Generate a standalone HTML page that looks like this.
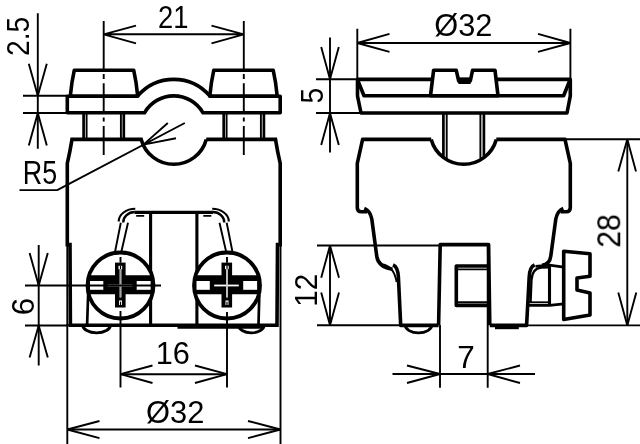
<!DOCTYPE html>
<html>
<head>
<meta charset="utf-8">
<title>Drawing</title>
<style>
html,body{margin:0;padding:0;background:#fff;}
body{width:640px;height:444px;overflow:hidden;}
svg{display:block;}
text{font-family:"Liberation Sans",sans-serif;fill:#000;}
.k{stroke:#000;stroke-width:3.6;fill:none;stroke-linejoin:round;stroke-linecap:butt;}
.kw{stroke:#000;stroke-width:3.6;fill:#fff;stroke-linejoin:round;}
.m{stroke:#000;stroke-width:2.7;fill:none;}
.n{stroke:#000;stroke-width:3.1;fill:none;}
.t{stroke:#000;stroke-width:1.9;fill:none;stroke-linejoin:bevel;}
.b{fill:#000;stroke:none;}
.w{fill:#fff;stroke:none;}
</style>
</head>
<body>
<svg width="640" height="444" viewBox="0 0 640 444">
<rect x="0" y="0" width="640" height="444" fill="#fff"/>

<!-- ================= FRONT VIEW ================= -->
<g id="front">
  <!-- caps -->
  <path class="kw" d="M70.3,96.2 Q71.6,82 74.3,70.2 L133.7,70.2 Q136.4,82 137.7,96.2 Z"/>
  <path class="kw" d="M277.2,96.2 Q275.9,82 273.2,70.2 L213.8,70.2 Q211.100,82 209.8,96.2 Z"/>
  <!-- plate -->
  <path class="k" d="M137.5,96.2 L67.3,96.2 L67.3,112.8 L144.5,112.8 A33.75,33.75 0 0 1 203,112.8 L280.2,112.8 L280.2,96.2 L210,96.2 A47.4,47.4 0 0 0 137.5,96.2"/>
  <!-- bolts -->
  <path class="m" d="M83.6,113V139.3 M123.8,113V139.3 M223.7,113V139.3 M263.900,113V139.3"/>
  <path class="t" d="M86.6,113V139.3 M120.900,113V139.3 M226.600,113V139.3 M260.900,113V139.3"/>
  <!-- body -->
  <path class="k" style="stroke-linejoin:miter" d="M206.3,139.4 L275.5,139.4 Q277.5,152 280.2,163.3 L280.2,244.6 L277.5,244.6 L277,325.2 L70.400,325.2 L70,244.6 L67.3,244.6 L67.3,163.3 Q70,152 72,139.4 L141.2,139.4 A33.75,33.75 0 0 0 206.3,139.4"/>
  <path class="t" d="M66,325.2H71"/>
  <!-- bottom thick band -->
  <path class="k" d="M177.5,327H264"/>
  <!-- feet -->
  <path d="M82.7,325 A13.9,7.9 0 0 0 110.5,325" fill="none" stroke="#000" stroke-width="2.9"/>
  <path d="M238.4,325 A12.9,7.9 0 0 0 264.2,325" fill="none" stroke="#000" stroke-width="2.9"/>
  <!-- inner bracket -->
  <path class="n" d="M134.5,212.4H213"/>
  <path class="n" d="M150.6,212.4V325 M196.9,212.4V325"/>
  <path d="M118.7,221.4 A16.6,12.6 0 0 1 135.3,208.8" fill="none" stroke="#000" stroke-width="2.1"/><path d="M123.2,222.4 A11.5,10.4 0 0 1 134.7,212" fill="none" stroke="#000" stroke-width="2.4"/>
  <path d="M228.8,221.4 A16.6,12.6 0 0 0 212.2,208.8" fill="none" stroke="#000" stroke-width="2.1"/><path d="M224.3,222.4 A11.5,10.4 0 0 0 212.8,212" fill="none" stroke="#000" stroke-width="2.4"/>
  <path class="t" d="M136.2,215.9H144.2 M203.3,215.9H211.3"/>
  <path class="t" d="M120.8,222.7 L115,252 M128,222.7 L121.3,252 M226.7,222.7 L232.5,252 M219.5,222.7 L226.2,252"/>
  <!-- short lines screw-to-bottom -->
  <path class="m" d="M88.2,293 L87.1,325 M259.3,295 L258.500,325"/>
</g>

<!-- screws -->
<g id="screwL" transform="translate(120.5,285.5)">
  <circle cx="0" cy="0" r="33" fill="#fff" stroke="#000" stroke-width="3.8"/>
  <path class="b" d="M-31.3,-10.2 H31.3 L32.600,-5 L33,0 L32.600,5 L31.900,8.7 H-31.900 L-32.600,5 L-33,0 L-32.600,-5 Z"/>
  <rect class="w" x="-30.500" y="-4.500" width="13.300" height="8.800"/>
  <rect class="w" x="16.200" y="-4.500" width="13.900" height="8.800"/>
  <rect class="b" x="-5.500" y="-22.900" width="10.600" height="44.900"/>
  <rect class="w" x="-2" y="-19.700" width="3.700" height="3.400"/>
  <rect class="w" x="-0.900" y="-16.500" width="1.800" height="28.500"/>
  <rect class="w" x="-12.800" y="-0.900" width="24.600" height="1.800"/>
  <rect class="w" x="-1.500" y="15" width="3" height="4.500"/>
  <path d="M0,-19.700V-16.300" stroke="#000" stroke-width="1.2" fill="none"/><path d="M0,-16.300V12" stroke="#666" stroke-width="0.6" fill="none"/>
  <path d="M0,16.200V19.500" stroke="#000" stroke-width="1.200" fill="none"/>
</g>
<g id="screwR" transform="translate(227,285.5)">
  <circle cx="0" cy="0" r="33" fill="#fff" stroke="#000" stroke-width="3.8"/>
  <path class="b" d="M-31.3,-10.2 H31.3 L32.600,-5 L33,0 L32.600,5 L31.900,8.7 H-31.900 L-32.600,5 L-33,0 L-32.600,-5 Z"/>
  <rect class="w" x="-30.500" y="-4.500" width="13.300" height="8.800"/>
  <rect class="w" x="16.200" y="-4.500" width="13.900" height="8.800"/>
  <rect class="b" x="-5.500" y="-22.900" width="10.600" height="44.900"/>
  <rect class="w" x="-2" y="-19.700" width="3.700" height="3.400"/>
  <rect class="w" x="-0.900" y="-16.500" width="1.800" height="28.500"/>
  <rect class="w" x="-12.800" y="-0.900" width="24.600" height="1.800"/>
  <rect class="w" x="-1.500" y="15" width="3" height="4.500"/>
  <path d="M0,-19.700V-16.300" stroke="#000" stroke-width="1.2" fill="none"/><path d="M0,-16.300V12" stroke="#666" stroke-width="0.6" fill="none"/>
  <path d="M0,16.200V19.500" stroke="#000" stroke-width="1.200" fill="none"/>
</g>


<!-- ================= SIDE VIEW ================= -->
<g id="side">
  <!-- plate -->
  <path class="k" d="M357.5,79.4 L570.3,79.4 L570.3,96 L567,113 L361,113 L357.5,96 Z"/>
  <path class="k" d="M357.8,80.5 L364,95.8 L563.6,95.8 L569.800,80.5"/>
  <!-- cap -->
  <path class="kw" d="M430.5,95.8 L433.6,70.2 L456.2,70.2 L458.7,81 L470.3,81 L472.600,70.2 L495,70.2 L498,95.8 Z"/>
  <path class="b" d="M457.3,77.7 H471.5 L470.5,84 H458.500 Z"/>
  <!-- bolt -->
  <path class="m" d="M443.4,113V156.5 M483.9,113V156.500"/>
  <path class="t" d="M446.7,113V158.5 M480.4,113V158.500"/>
  <!-- body left -->
  <path class="k" d="M496.3,139.4 L565,139.4 L570.3,163.3 L570.3,207.5 Q570.300,211.8 566.2,211.8 L560.6,211.8"/>
  <path class="k" d="M431.200,139.4 L362.6,139.4 L357.3,163.3 L357.3,207.500 Q357.3,211.8 361.4,211.8 L367,211.8"/>
  <path class="k" d="M431.2,139.4 A33.75,33.75 0 0 0 496.3,139.4"/>
  <!-- left profile -->
  <path class="k" d="M364.3,208.4 Q370,210.5 371.8,219 L376.8,256.5 Q378.3,267 392.500,269.3"/>
  <path class="k" d="M393,264.8 Q398,267 398.4,277 L400.7,325.4 L438.6,325.4"/>
  <path class="t" d="M382,264.2 Q394,266 396.6,282"/>
  <!-- right profile -->
  <path class="k" d="M563.3,208.400 Q557.6,210.5 555.8,219 L550.8,256 Q549.8,264.3 542,265.3"/>
  <path class="k" d="M534.6,264.8 Q529.6,267 529.2,277 L526.6,325.4 L489.8,325.4"/>
  <path d="M549,267.3 L541,267.6 Q532.300,268.500 531.500,280 L530.600,302" fill="none" stroke="#000" stroke-width="2.3"/>
  <!-- post -->
  <path class="k" d="M438.6,325.2 L440.2,244.6 L488.6,244.6 L489.8,325.2"/>
  <path class="k" d="M488.8,266 L456.3,266 L456.3,305.400 L489.2,305.400"/>
  <path class="t" d="M457,269.4H488.800 M457,302.200H489.200"/>
  <!-- foot + band -->
  <path d="M405.2,325 A13.3,7.900 0 0 0 431.8,325" fill="none" stroke="#000" stroke-width="2.8"/>
  <path class="k" d="M495,327.4H518.8"/>
  <!-- side screw -->
  <path class="m" d="M535.500,266.300 L549.500,265.200 L563.700,267.200 M528,305.400 L549.500,305.400 L563.7,303.800"/><path class="n" d="M549.500,265.200V305.400"/>
  <path class="t" d="M529,302.300 L549.500,302.300"/>
  <path class="kw" d="M563.7,251.2 L590,253.8 L590,276.2 L577,278 L577,290 L590,293 L590,315 L563.700,319.5 Z"/>
</g>

<!-- ================= DIMENSIONS ================= -->
<g id="dims" class="t">
  <!-- centre lines front -->
  <path d="M103.700,21V69.500 M103.7,74V79 M103.7,83.300V112.500 M103.7,117.5V121.500 M103.7,126V155"/>
  <path d="M243.8,21V69.500 M243.8,74V79 M243.8,83.300V112.500 M243.8,117.5V121.500 M243.8,126V155"/>
  <!-- 21 -->
  <path d="M103.7,34.3H243.800 M136,25.6 L103.7,34.3 L136,43.300 M211.500,25.6 L243.8,34.3 L211.5,43.300"/>
  <!-- 2.5 -->
  <path d="M23,95.800H67 M23,113H67 M37.800,13.2V148.800"/>
  <path d="M28.800,63.800 L37.8,95.800 L46.800,63.800 M28.8,145.5 L37.8,113 L46.8,145.5"/>
  <!-- R5 leader -->
  <path d="M19.5,190.1H57.2 L184.800,123 M167.800,123 L143.400,144.600 L176,138.300"/>
  <!-- 6 -->
  <path d="M25,285.500H161 M25,325.500H67 M38.700,245V365.500"/>
  <path d="M29.600,253 L38.700,285.500 L47.800,253 M29.600,357.500 L38.700,325.500 L47.800,357.500"/>
  <!-- screw centre lines + 16 -->
  <path d="M120.500,257V262.800 M120.500,311V387.500 M227,257V262.800 M227,312V387.500 M120.500,374.200H227"/>
  <path d="M152.500,365.500 L120.500,374.200 L152.500,383 M195,365.500 L227,374.200 L195,383"/>
  <!-- O32 bottom -->
  <path d="M67.300,244V444 M280.500,244V444 M67.300,429.500H280.500"/>
  <path d="M99.500,421 L67.300,429.500 L99.500,438.200 M248,421 L280.500,429.500 L248,438.200"/>
  <!-- O32 top side -->
  <path d="M357.300,28.800V79 M570.400,28.800V79 M357.300,43H570.400"/>
  <path d="M389.500,33.800 L357.300,43 L389.500,51.800 M538,33.800 L570.400,43 L538,51.800"/>
  <!-- 5 -->
  <path d="M316,79.200H357 M316,113H360 M330,37.500V152.500"/>
  <path d="M321.200,47 L330,79.200 L338.800,47 M321.200,145 L330,113 L338.800,145"/>
  <!-- 12 -->
  <path d="M317,245.500H440 M317,325.300H400 M330,245.500V325.300"/>
  <path d="M321.200,277.700 L330,245.500 L339,277.700 M321.200,292.500 L330,325.300 L339,292.500"/>
  <!-- 28 -->
  <path d="M565,139.300H640 M526,325.400H640 M627.300,139.300V325.400"/>
  <path d="M618.300,171.500 L627.300,139.300 L636,171.500 M618.300,292.500 L627.300,325.400 L636.300,292.500"/>
  <!-- 7 -->
  <path d="M440,325V387.700 M487.700,244.600V387.700 M392.500,374H535"/>
  <path d="M407,365.500 L440,374 L407,383 M520,365.500 L487.700,374 L520,383"/>
</g>

<!-- ================= TEXT ================= -->
<g id="labels" style="opacity:0.999">
  <text transform="translate(158.00,27.75) scale(0.858,1)" font-size="31.86">21</text>
  <text transform="translate(22.75,184.00) scale(0.815,1)" font-size="33.01">R5</text>
  <text transform="translate(155.75,364.00) scale(0.980,1)" font-size="31.36">16</text>
  <text transform="translate(146.00,423.40) scale(0.965,1)" font-size="32">Ø32</text>
  <text transform="translate(434.25,35.60) scale(0.962,1)" font-size="32">Ø32</text>
  <text transform="translate(457.25,367.50) scale(0.992,1)" font-size="31.78">7</text>
  <text transform="translate(28.75,56.00) rotate(-90) scale(0.880,1)" font-size="32.00">2.5</text>
  <text transform="translate(33.75,315.25) rotate(-90) scale(1.003,1)" font-size="31.36">6</text>
  <text transform="translate(322.75,103.50) rotate(-90) scale(0.896,1)" font-size="31.43">5</text>
  <text transform="translate(316.75,306.75) rotate(-90) scale(0.928,1)" font-size="31.93">12</text>
  <text transform="translate(620.25,247.75) rotate(-90) scale(0.925,1)" font-size="32.78">28</text>
</g>
</svg>
</body>
</html>
